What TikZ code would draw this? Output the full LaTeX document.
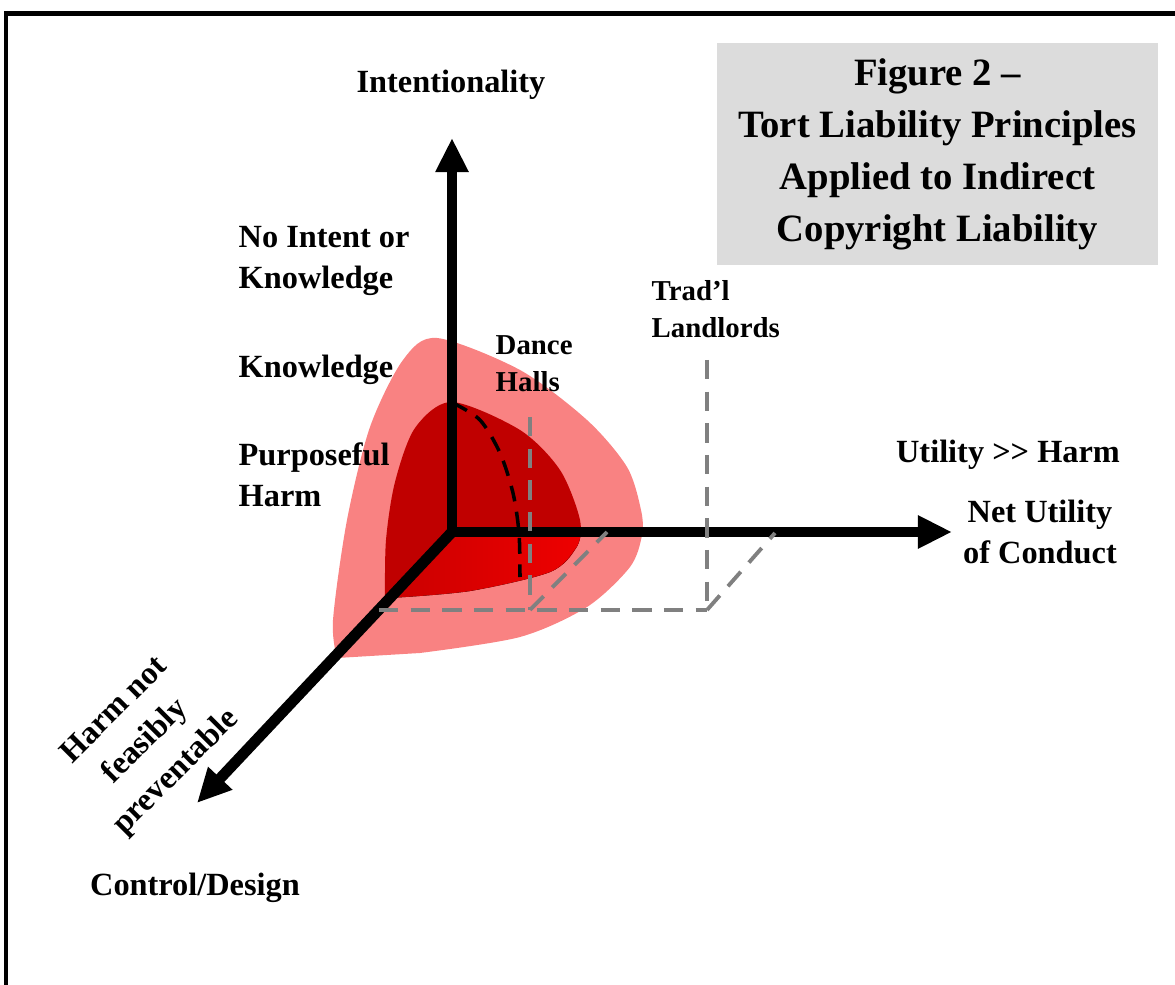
\documentclass[tikz,border=0pt]{standalone}
\usepackage{fontspec}
\setmainfont{Liberation Serif}
\usetikzlibrary{arrows.meta}

\definecolor{salmon}{RGB}{249,130,130}
\definecolor{darkred}{RGB}{192,0,0}
\definecolor{floorred}{RGB}{238,0,0}
\definecolor{boxgray}{RGB}{220,220,220}
\definecolor{dashgray}{RGB}{128,128,128}

\tikzset{
  axis/.style={line width=3.1pt, -{Triangle[length=0.34cm,width=0.31cm]}},
  guide/.style={dashgray, line width=1.1pt, dash pattern=on 5.5pt off 3.5pt},
  lbl/.style={font=\bfseries\fontsize{9.2}{11.8}\selectfont, align=left, inner sep=0pt},
  smalllbl/.style={font=\bfseries\fontsize{8.2}{10.6}\selectfont, align=left, inner sep=0pt}
}

\begin{document}
\begin{tikzpicture}[x=0.01cm, y=-0.01cm]
    \useasboundingbox (0,0) rectangle (1175,985);
    % frame
    \draw[line width=1.7pt] (4,13.5) -- (1175,13.5);
    \draw[line width=1.2pt] (6,11) -- (6,985);

    % title box
    \node[fill=boxgray, minimum width=4.41cm, minimum height=2.22cm, align=center,
          font=\bfseries\fontsize{11}{14.8}\selectfont] (title) at (937.5,154)
          {Figure 2 --\\Tort Liability Principles\\Applied to Indirect\\Copyright Liability};

    % regions
    \fill[salmon] plot[smooth] coordinates {(337,658) (333,620) (347,520) (370,427) (403,360) (437,338)
                  (520,370) (587,420) (627,467) (641,510) (642,535) (630,567) (587,607) (520,637) (420,653)} -- cycle;
    \fill[darkred] plot[smooth] coordinates {(385,598) (386,540) (395,482) (415,428) (452,402)
                  (520,430) (560,470) (580,520) (576,548) (550,572) (470,591)} -- cycle;
    \fill[left color=floorred!85!black, right color=floorred] (452,532) -- plot[smooth] coordinates {(581,532) (576,548) (550,572) (470,591) (390,598)} -- cycle;
    \draw[line width=1pt, dash pattern=on 4.5pt off 3pt] plot[smooth] coordinates {(453,403) (480,420) (500,453) (513,493) (519,533) (520,577)};

    % axes
    \coordinate (O) at (452,532);
    \coordinate (up) at (452,138);
    \coordinate (right) at (952,532);
    \coordinate (down) at (197,803);
    \draw[axis] (O) -- (up);
    \draw[axis] (O) -- (right);
    \draw[axis] (O) -- (down);

    % guides
    \coordinate (dtop) at (530,417);
    \coordinate (dfoot) at (530,610);
    \coordinate (dax) at (607,532);
    \coordinate (ltop) at (707,360);
    \coordinate (lfoot) at (707,610);
    \coordinate (lax) at (775,533);
    \coordinate (start) at (379,610);
    \draw[guide] (dtop) -- (dfoot);
    \draw[guide] (dfoot) -- (dax);
    \draw[guide] (start) -- (lfoot);
    \draw[guide] (ltop) -- (lfoot);
    \draw[guide] (lfoot) -- (lax);

    % labels
    \node[lbl] (intent) at (451,85) {Intentionality};
    \node[lbl, anchor=west] (noint) at (238,261) {No Intent or\\Knowledge};
    \node[lbl, anchor=west] (know) at (238,370) {Knowledge};
    \node[lbl, anchor=west] (purp) at (238,475) {Purposeful\\Harm};
    \node[smalllbl, anchor=west] (dance) at (495,364) {Dance\\Halls};
    \node[smalllbl, anchor=west] (land) at (651,309) {Trad’l\\Landlords};
    \node[lbl] (utilharm) at (1008,455) {Utility {>}{>} Harm};
    \node[lbl, align=center] (netutil) at (1040,532) {Net Utility\\of Conduct};
    \node[lbl] (control) at (195,888) {Control/Design};
    \node[lbl, align=center, rotate=45, font=\bfseries\fontsize{9.2}{12.4}\selectfont] (harmnot) at (146,742) {Harm not\\feasibly\\preventable};
\end{tikzpicture}
\end{document}
